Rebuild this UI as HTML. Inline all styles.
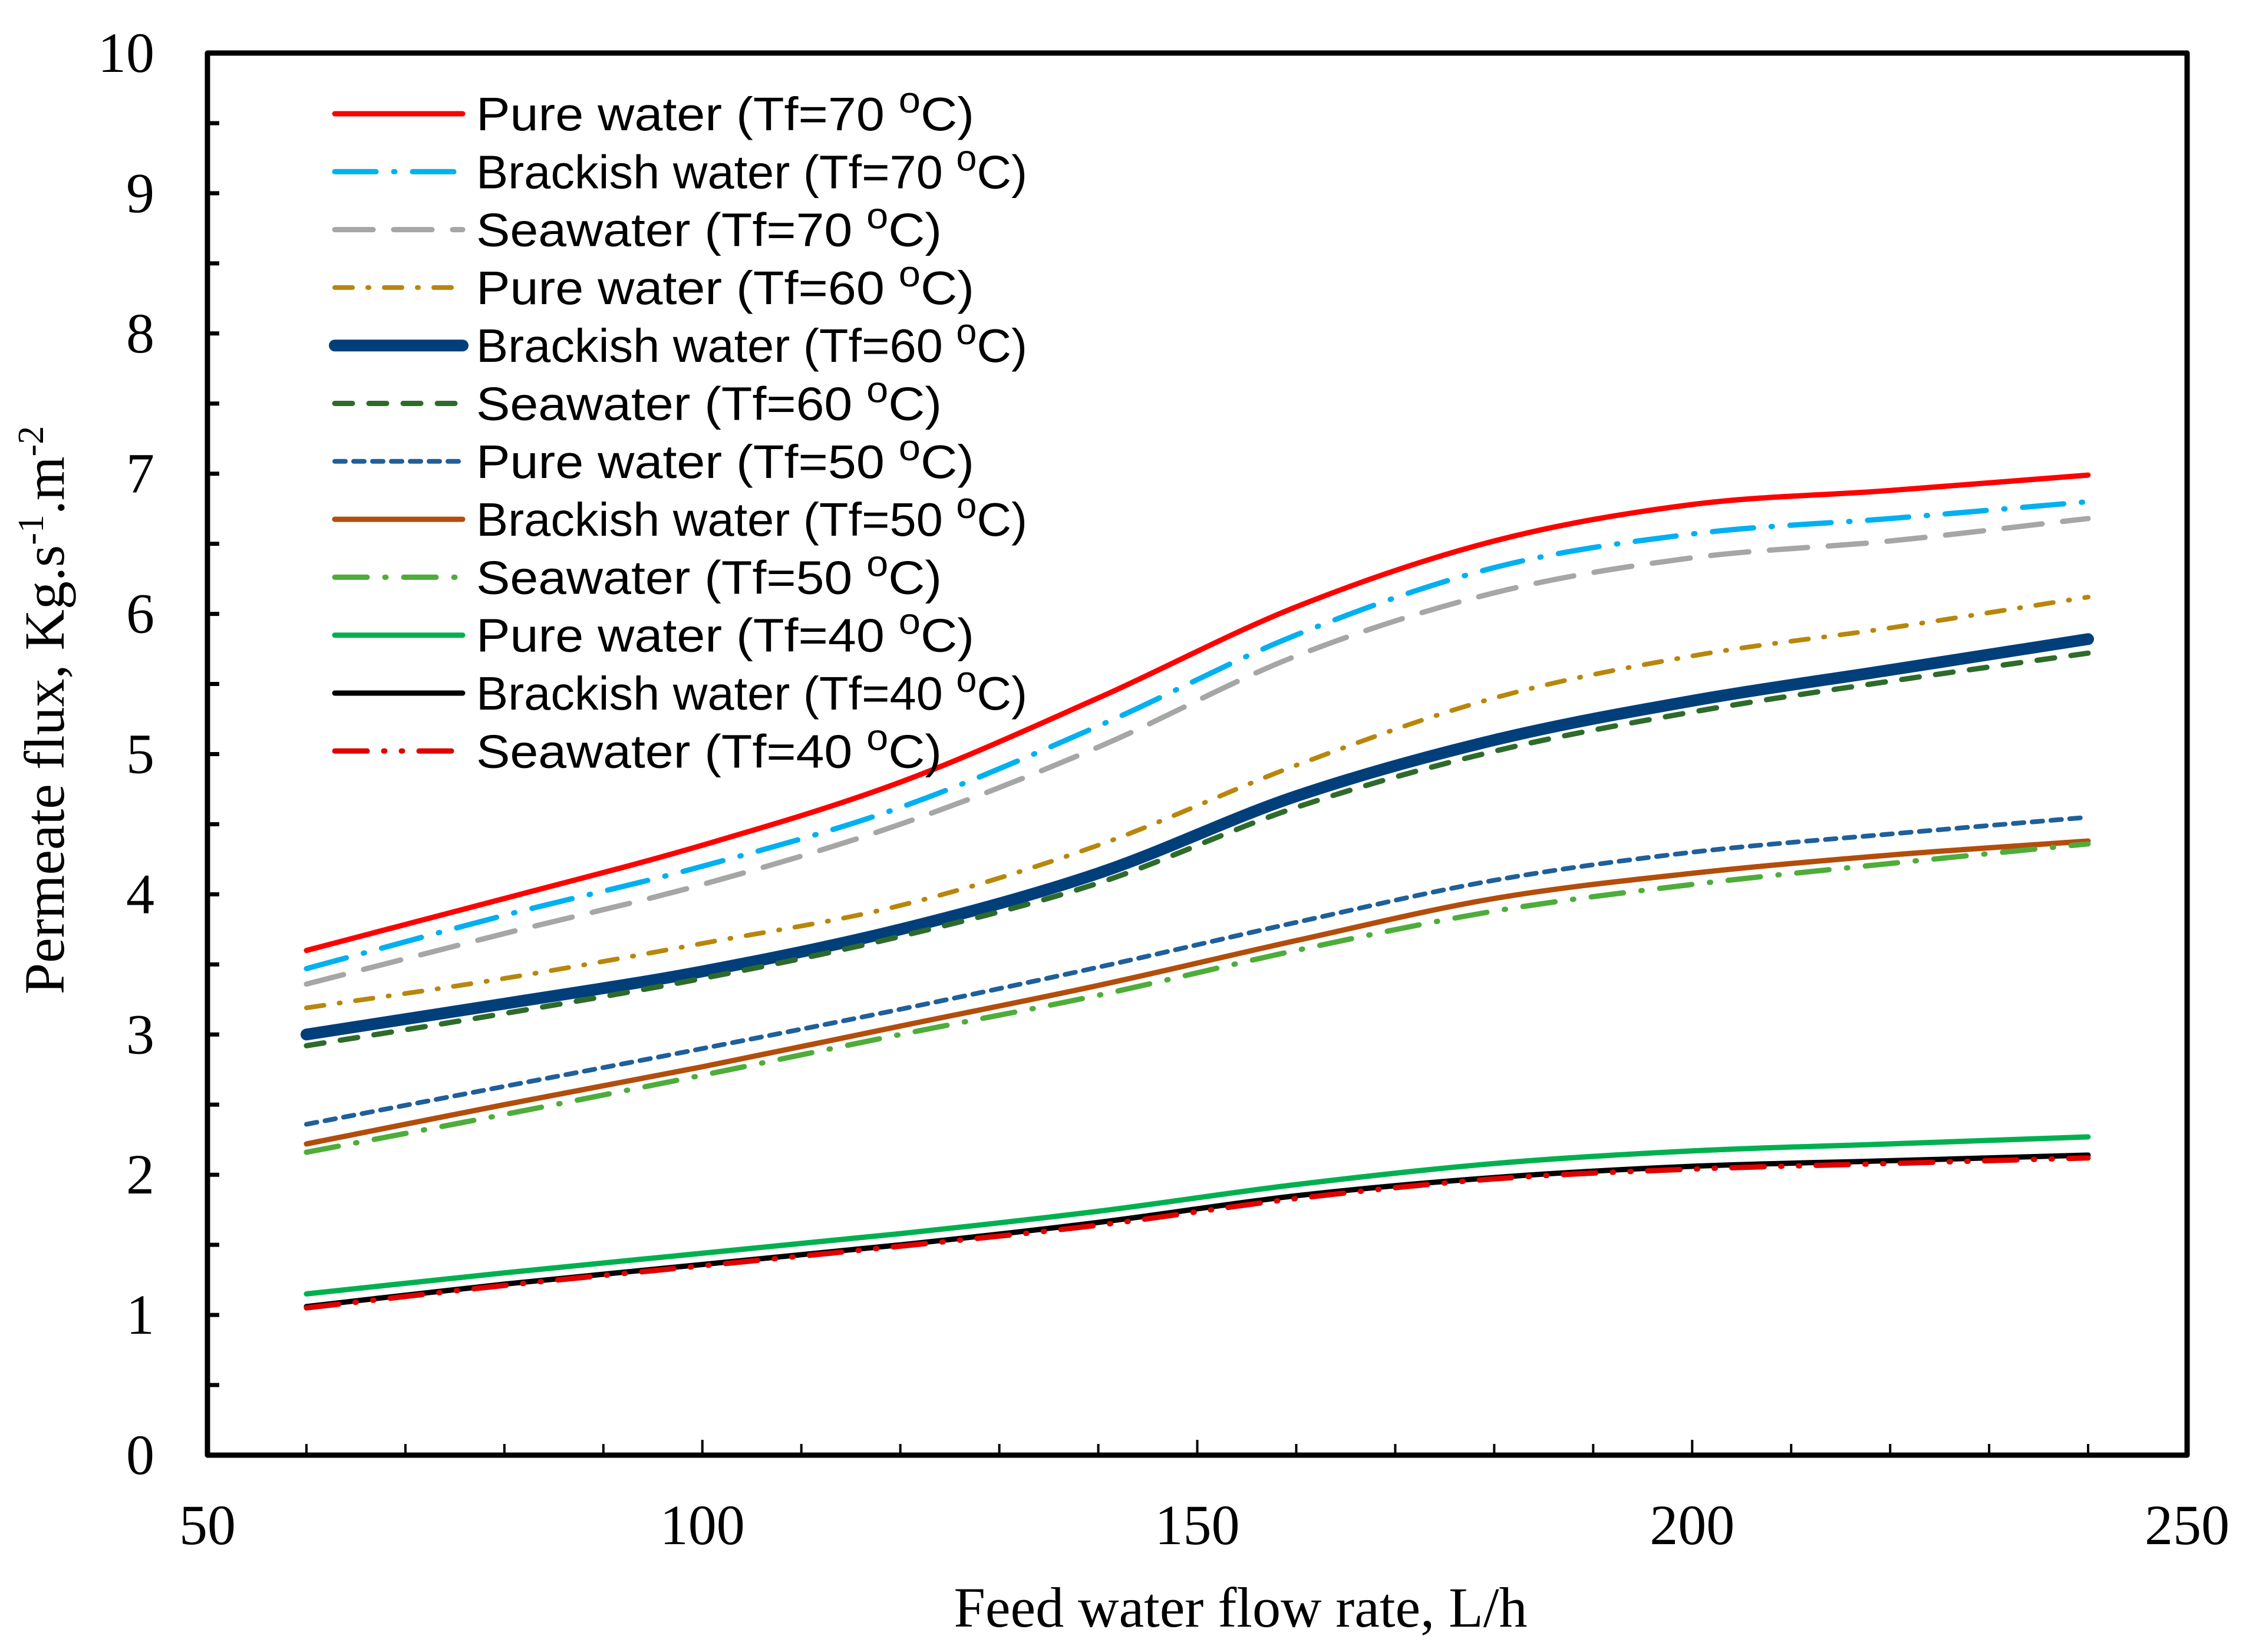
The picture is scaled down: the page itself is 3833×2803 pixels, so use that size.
<!DOCTYPE html>
<html><head><meta charset="utf-8">
<style>
html,body{margin:0;padding:0;background:#fff;}
svg{display:block;}
</style></head>
<body>
<svg id="chart" width="3833" height="2803" viewBox="0 0 3833 2803" xmlns="http://www.w3.org/2000/svg">
<rect x="0" y="0" width="3833" height="2803" fill="#fff"/>
<g id="series"></g>
<g id="axes"></g>
<g id="legend"></g>
</svg>
<script>
const xValues = [60, 80, 100, 120, 140, 160, 180, 200, 220, 240];
const seriesNames = ["Pure water (Tf=70 ºC)","Brackish water (Tf=70 ºC)","Seawater (Tf=70 ºC)","Pure water (Tf=60 ºC)","Brackish water (Tf=60 ºC)","Seawater (Tf=60 ºC)","Pure water (Tf=50 ºC)","Brackish water (Tf=50 ºC)","Seawater (Tf=50 ºC)","Pure water (Tf=40 ºC)","Brackish water (Tf=40 ºC)","Seawater (Tf=40 ºC)"];
const pure70 = [3.6, 3.97, 4.35, 4.8, 5.4, 6.05, 6.52, 6.78, 6.88, 6.99];
const brackish70 = [3.47, 3.85, 4.2, 4.62, 5.2, 5.85, 6.33, 6.57, 6.68, 6.8];
const sea70 = [3.36, 3.72, 4.07, 4.5, 5.05, 5.7, 6.15, 6.4, 6.52, 6.68];
const pure60 = [3.19, 3.4, 3.65, 3.92, 4.35, 4.92, 5.4, 5.7, 5.9, 6.12];
const brackish60 = [3.0, 3.22, 3.45, 3.75, 4.15, 4.7, 5.1, 5.38, 5.6, 5.82];
const sea60 = [2.92, 3.15, 3.4, 3.7, 4.08, 4.62, 5.02, 5.3, 5.52, 5.72];
const pure50 = [2.36, 2.63, 2.9, 3.18, 3.48, 3.8, 4.1, 4.3, 4.43, 4.55];
const brackish50 = [2.22, 2.5, 2.77, 3.06, 3.35, 3.67, 3.97, 4.15, 4.28, 4.38];
const sea50 = [2.16, 2.43, 2.71, 3.0, 3.28, 3.6, 3.88, 4.07, 4.22, 4.36];
const pure40 = [1.15, 1.3, 1.44, 1.58, 1.74, 1.93, 2.08, 2.17, 2.22, 2.27];
const brackish40 = [1.06, 1.22, 1.36, 1.5, 1.66, 1.85, 1.98, 2.06, 2.1, 2.14];
const sea40 = [1.05, 1.21, 1.35, 1.49, 1.64, 1.83, 1.97, 2.04, 2.08, 2.12];
const xTickLabels = ["50","100","150","200","250"];
const yTickLabels = ["0","1","2","3","4","5","6","7","8","9","10"];

const NS = "http://www.w3.org/2000/svg";
const L = 352, R = 3711, T = 90, B = 2469;
const X0 = 50, X1 = 250, Y0 = 0, Y1 = 10;
function sx(v){ return L + (v - X0) / (X1 - X0) * (R - L); }
function sy(v){ return B - (v - Y0) / (Y1 - Y0) * (B - T); }
function mk(tag, attrs, parent){
  const e = document.createElementNS(NS, tag);
  for (const k in attrs) e.setAttribute(k, attrs[k]);
  parent.appendChild(e);
  return e;
}
const styles = [
  {d: pure70, c:"#FF0000", w:9, dash:""},
  {d: brackish70, c:"#00B0F0", w:9, dash:"70 30 2 30"},
  {d: sea70, c:"#A6A6A6", w:9, dash:"65 35"},
  {d: pure60, c:"#B8860B", w:8, dash:"30 26 2 26"},
  {d: brackish60, c:"#003F7A", w:20, dash:""},
  {d: sea60, c:"#2E6B2A", w:9, dash:"30 28"},
  {d: pure50, c:"#1F5F9A", w:8, dash:"18 14"},
  {d: brackish50, c:"#B34D0C", w:9, dash:""},
  {d: sea50, c:"#4EAD3A", w:9, dash:"55 30 2 30"},
  {d: pure40, c:"#00B050", w:9, dash:""},
  {d: brackish40, c:"#000000", w:9, dash:""},
  {d: sea40, c:"#E00000", w:9, dash:"55 28 2 28 2 28"}
];
function smoothPath(xs, ys){
  const n = xs.length;
  const m = [];
  for (let i = 0; i < n; i++){
    const a = Math.max(i-1,0), b = Math.min(i+1,n-1);
    m.push((ys[b]-ys[a])/(xs[b]-xs[a]));
  }
  let d = "M" + sx(xs[0]).toFixed(1) + "," + sy(ys[0]).toFixed(1);
  for (let i = 0; i < n - 1; i++){
    const h = xs[i+1]-xs[i];
    const c1x = xs[i] + h/3, c1y = ys[i] + m[i]*h/3;
    const c2x = xs[i+1] - h/3, c2y = ys[i+1] - m[i+1]*h/3;
    d += " C" + sx(c1x).toFixed(1)+","+sy(c1y).toFixed(1)+" "+sx(c2x).toFixed(1)+","+sy(c2y).toFixed(1)+" "+sx(xs[i+1]).toFixed(1)+","+sy(ys[i+1]).toFixed(1);
  }
  return d;
}
const gS = document.getElementById("series");
styles.forEach((s, i) => {
  const a = {d: smoothPath(xValues, s.d), fill:"none", stroke:s.c, "stroke-width":s.w, "stroke-linecap":"round", "stroke-linejoin":"round"};
  if (s.dash) a["stroke-dasharray"] = s.dash;
  const p = mk("path", a, gS);
  
  
});

const gA = document.getElementById("axes");
const frame = mk("rect", {x:L, y:T, width:R-L, height:B-T, fill:"none", stroke:"#000", "stroke-width":9, "stroke-linejoin":"round"}, gA);


for (let v = 50; v <= 250; v += 10){
  const major = v % 50 === 0;
  const t = mk("line", {x1:sx(v), x2:sx(v), y1:B, y2:B-(major?26:19), stroke:"#000", "stroke-width":4}, gA);
  
  
}
for (let v = 0; v <= 10; v += 0.5){
  const t = mk("line", {x1:L, x2:L+20, y1:sy(v), y2:sy(v), stroke:"#000", "stroke-width":7}, gA);
  
  
}
xTickLabels.forEach(lbl => {
  const t = mk("text", {x:sx(+lbl), y:2620, "text-anchor":"middle", "font-family":"Liberation Serif, serif", "font-size":96, fill:"#000"}, gA);
  t.textContent = lbl;
  
  
});
yTickLabels.forEach(lbl => {
  const t = mk("text", {x:262, y:sy(+lbl)+32, "text-anchor":"end", "font-family":"Liberation Serif, serif", "font-size":96, fill:"#000"}, gA);
  t.textContent = lbl;
  
  
});
const xt = mk("text", {x:2105, y:2760, "text-anchor":"middle", "font-family":"Liberation Serif, serif", "font-size":96, fill:"#000"}, gA);
xt.textContent = "Feed water flow rate, L/h";


const yt = mk("text", {x:0, y:0, "text-anchor":"middle", "font-family":"Liberation Serif, serif", "font-size":96, fill:"#000", transform:"translate(108,1205) rotate(-90)"}, gA);
yt.innerHTML = 'Permeate flux, Kg.s<tspan dy="-35" font-size="62">-1</tspan><tspan dy="35">.m</tspan><tspan dy="-35" font-size="62">-2</tspan>';



const gL = document.getElementById("legend");
styles.forEach((s, i) => {
  const y = 193 + i * 98.3;
  const g = mk("g", {}, gL);
  
  
  const a = {x1:568, x2:785, y1:y, y2:y, stroke:s.c, "stroke-width":s.w, "stroke-linecap":"round"};
  if (s.dash) a["stroke-dasharray"] = s.dash;
  mk("line", a, g);
  const name = seriesNames[i];
  const isBrack = name.startsWith("Brackish");
  const isSea = name.startsWith("Seawater");
  const w = isBrack ? 935 : (isSea ? 790 : 845);
  const t = mk("text", {x:808, y:y+28, "font-family":"Liberation Sans, sans-serif", "font-size":80, fill:"#000", textLength:w, lengthAdjust:"spacingAndGlyphs"}, g);
  const parts = name.split("ºC");
  t.innerHTML = parts[0] + '<tspan dy="-30" font-size="62">o</tspan><tspan dy="30">C)</tspan>';
});
</script>
</body></html>
